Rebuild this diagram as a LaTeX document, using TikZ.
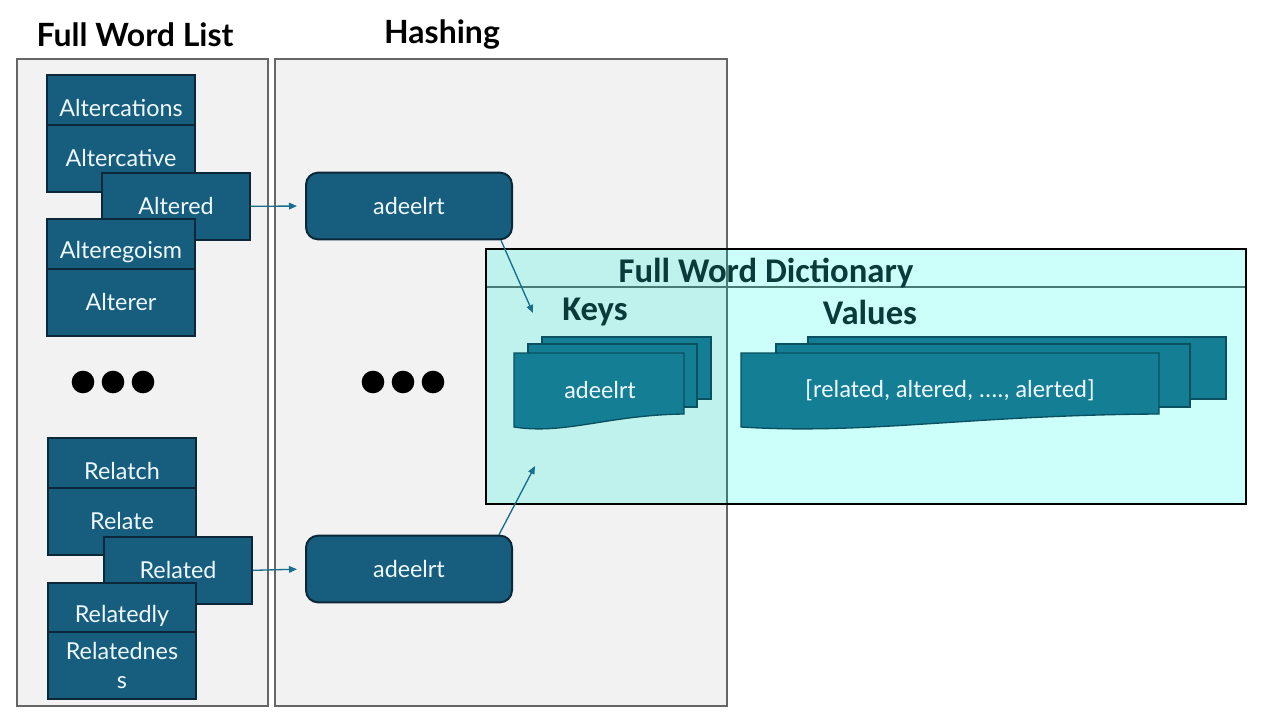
\documentclass[tikz,border=0pt]{standalone}
\usepackage{fontspec}
\setmainfont{Lato}
\newfontfamily\narrowfont{Carlito}
\usetikzlibrary{calc,arrows.meta}
\definecolor{wordfill}{RGB}{23,94,126}
\definecolor{wordline}{RGB}{12,40,56}
\definecolor{wordtext}{RGB}{240,248,255}
\definecolor{panelfill}{RGB}{242,242,242}
\definecolor{panelline}{RGB}{102,102,102}
\definecolor{dictfill}{RGB}{204,255,249}
\definecolor{dictshade}{RGB}{191,242,236}
\definecolor{dictrule}{RGB}{72,122,118}
\definecolor{dicttext}{RGB}{10,58,58}
\definecolor{docfill}{RGB}{19,126,148}
\definecolor{docline}{RGB}{10,80,96}
\definecolor{linkcol}{RGB}{24,110,140}
% page with a wavy bottom edge: left, top, right, bottom (left corner)
\newcommand{\docpage}[4]{%
  \pgfmathsetmacro{\dw}{#3-#1}%
  \pgfmathsetmacro{\ca}{#1+0.55*\dw}%
  \pgfmathsetmacro{\cb}{#1+0.3*\dw}%
  \filldraw[doc] (#1,#2) -- (#3,#2) -- (#3,#4-13)
    .. controls (\ca,#4-12) and (\cb,#4+8) .. (#1,#4) -- cycle;}
\begin{document}
\begin{tikzpicture}[x=0.75pt,y=-0.75pt,
    wordbox/.style={draw=wordline,line width=1.5pt,fill=wordfill,text=wordtext,
      anchor=north west,minimum width=111pt,minimum height=50pt,inner sep=0pt,
      align=center,font=\fontsize{17.5}{22}\selectfont},
    hashbox/.style={draw=wordline,line width=1.5pt,fill=wordfill,text=wordtext,
      rounded corners=9pt,minimum width=154.5pt,minimum height=50pt,
      font=\fontsize{17.5}{21}\selectfont},
    panel/.style={draw=panelline,line width=1.5pt,fill=panelfill},
    title/.style={font=\bfseries\fontsize{24}{28}\selectfont},
    dicttitle/.style={text=dicttext,font=\narrowfont\bfseries\fontsize{26}{30}\selectfont},
    doctext/.style={text=wordtext,font=\narrowfont\fontsize{18.5}{22}\selectfont},
    link/.style={draw=linkcol,line width=1pt,-{Triangle[length=6pt,width=5pt]}},
    doc/.style={fill=docfill,draw=docline,line width=1pt}]
    \useasboundingbox[fill=white] (0,0) rectangle (1264,713);

    % panels
    \draw[panel] (17,59) rectangle (268,706);
    \draw[panel] (275,59) rectangle (727,706);
    \node[title] (listtitle) at (135,35) {Full Word List};
    \node[title] (hashtitle) at (442,35) {Hashing};

    % word list, upper group
    \begin{scope}
      \node[wordbox] (altercations) at (46,74) {Altercations};
      \node[wordbox] (altercative) at (46,124) {Altercative};
      \node[wordbox] (altered) at (101,172) {Altered};
      \node[wordbox] (alteregoism) at (46,218) {Alteregoism};
      \node[wordbox] (alterer) at (46,268) {Alterer};
    \end{scope}

    % word list, lower group
    \begin{scope}
      \node[wordbox] (relatch) at (47,437) {Relatch};
      \node[wordbox] (relate) at (47,487) {Relate};
      \node[wordbox] (related) at (103,536) {Related};
      \node[wordbox] (relatedly) at (47,582) {Relatedly};
      \node[wordbox] (relatedness) at (47,631) {Relatednes\\s};
    \end{scope}

    \foreach \x in {83,113,143,373,403,433}
      \fill (\x,382) circle (8.5pt);

    % hashed keys
    \node[hashbox] (hashA) at (409,206) {adeelrt};
    \node[hashbox] (hashB) at (409,569) {adeelrt};
    \draw[link,shorten >=6pt] (altered.east) -- (hashA.west);
    \draw[link,shorten >=6pt] (related.east) -- (hashB.west);

    % dictionary
    \begin{scope}
      \fill[dictfill] (486,249) rectangle (1246,504);
      \fill[dictshade] (486,249) rectangle (727,504);
      \draw[dictrule,line width=1pt] (727,249) -- (727,504);
      \draw[dictrule,line width=1pt] (486,287) -- (1246,287);
      \draw[black,line width=1.5pt] (486,249) rectangle (1246,504);
      \node[dicttitle] (dicttitle) at (766,273) {Full Word Dictionary};
      \node[dicttitle] (keys) at (595,312) {Keys};
      \node[dicttitle] (values) at (870,312) {Values};

      \filldraw[doc] (542,337) rectangle (711,399);
      \filldraw[doc] (528,344) rectangle (697,407);
      \docpage{514}{353}{684}{427}
      \node[doctext] (key) at (600,390) {adeelrt};

      \filldraw[doc] (808,337) rectangle (1226,399);
      \filldraw[doc] (776,344) rectangle (1190,407);
      \docpage{741}{353}{1159}{427}
      \node[doctext] (value) at (950,390) {[related, altered, ...., alerted]};
    \end{scope}

    \coordinate (keyinA) at (533,313);
    \coordinate (keyinB) at (535,466);
    \draw[link] ($(hashA.south east)+(-12,0)$) -- (keyinA);
    \draw[link] ($(hashB.north east)+(-14,0)$) -- (keyinB);
  \end{tikzpicture}
\end{document}
